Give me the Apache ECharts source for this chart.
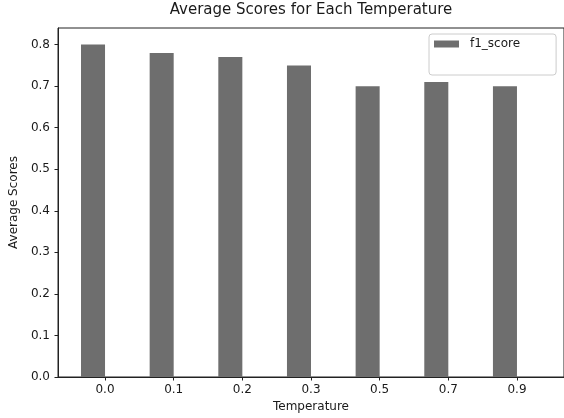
<!DOCTYPE html>
<html>
<head>
<meta charset="utf-8">
<script src="https://cdn.jsdelivr.net/npm/echarts@6/dist/echarts.min.js"></script>
<style>html,body{margin:0;padding:0;background:#fff}#c{width:564px;height:418px}</style>
</head>
<body>
<div id="c"></div>
<script>
const temperatures = ['0.0', '0.1', '0.2', '0.3', '0.5', '0.7', '0.9'];
const f1Scores = [0.80, 0.78, 0.77, 0.75, 0.70, 0.71, 0.70];
const yTicks = [0, 0.1, 0.2, 0.3, 0.4, 0.5, 0.6, 0.7, 0.8];

const idx = temperatures.map((t, i) => i);
const font = 'DejaVu Sans';
const ink = '#1a1a1a';

const chart = echarts.init(document.getElementById('c'), null, {renderer: 'canvas'});
chart.setOption({
  animation: false,
  backgroundColor: '#fff',
  textStyle: {fontFamily: font},
  title: {
    text: 'Average Scores for Each Temperature',
    left: 311, top: 3, padding: 0, textAlign: 'center',
    textStyle: {fontFamily: font, fontSize: 15, fontWeight: 'normal', color: ink}
  },
  legend: {
    data: ['f1_score'],
    left: 429, top: 34,
    padding: [4, 36, 25, 5],
    borderColor: '#cccccc', borderWidth: 1, borderRadius: 3,
    icon: 'rect', itemWidth: 25, itemHeight: 7,
    textStyle: {fontFamily: font, fontSize: 12, color: ink, padding: [0, 0, 0, 6]}
  },
  grid: {left: 58, right: -1, top: 28, bottom: 41, show: true, borderColor: '#222', borderWidth: 1},
  xAxis: {
    type: 'value', min: -0.685, max: 6.685,
    name: 'Temperature', nameLocation: 'middle', nameGap: 24,
    nameTextStyle: {fontFamily: font, fontSize: 12, color: ink},
    axisLine: {show: true, onZero: false, lineStyle: {color: '#222', width: 1}},
    axisTick: {show: true, length: 3.5, customValues: idx, lineStyle: {color: '#222'}},
    axisLabel: {customValues: idx, margin: 7, fontFamily: font, fontSize: 12, color: ink,
      formatter: v => temperatures[Math.round(v)]},
    splitLine: {show: false}
  },
  yAxis: {
    type: 'value', min: 0, max: 0.84,
    name: 'Average Scores', nameLocation: 'middle', nameGap: 33,
    nameTextStyle: {fontFamily: font, fontSize: 12, color: ink},
    axisLine: {show: true, onZero: false, lineStyle: {color: '#222', width: 1}},
    axisTick: {show: true, length: 3.5, customValues: yTicks, lineStyle: {color: '#222'}},
    axisLabel: {customValues: yTicks, margin: 8, fontFamily: font, fontSize: 12, color: ink,
      formatter: v => v.toFixed(1)},
    splitLine: {show: false}
  },
  series: [
    {
      name: 'f1_score', type: 'bar',
      data: idx.map(i => [i, f1Scores[i]]),
      barWidth: '35%', barGap: '0%',
      itemStyle: {color: '#6e6e6e'}
    },
    {
      name: 'hidden', type: 'bar',
      data: idx.map(i => [i, 0]),
      barWidth: '35%', barGap: '0%',
      itemStyle: {color: 'rgba(0,0,0,0)'}
    }
  ]
});
</script>
</body>
</html>
